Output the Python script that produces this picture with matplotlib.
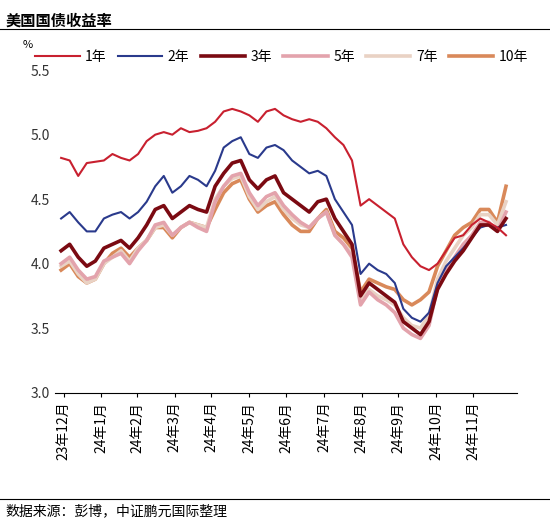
import matplotlib
matplotlib.use("Agg")
import matplotlib.pyplot as plt
import pandas as pd

plt.rcParams['font.family'] = ['Noto Sans CJK SC', 'DejaVu Sans']

dates = pd.date_range('2023-12-29', periods=53, freq='7D')
y1 = [4.82,4.80,4.68,4.78,4.79, 4.80,4.85,4.82,4.80, 4.85,4.95,5.00,5.02, 5.00,5.05,5.02,5.03,5.05, 5.10,5.18,5.20,5.18, 5.15,5.10,5.18,5.20,5.15, 5.12,5.10,5.12,5.10, 5.05,4.98,4.92,4.80, 4.45,4.50,4.45,4.40,4.35, 4.15,4.05,3.98,3.95, 4.00,4.10,4.20,4.22, 4.30,4.35,4.32,4.28,4.22]
y2 = [4.35,4.40,4.32,4.25,4.25, 4.35,4.38,4.40,4.35, 4.40,4.48,4.60,4.68, 4.55,4.60,4.68,4.65,4.60, 4.72,4.90,4.95,4.98, 4.85,4.82,4.90,4.92,4.88, 4.80,4.75,4.70,4.72, 4.68,4.50,4.40,4.30, 3.92,4.00,3.95,3.92,3.85, 3.65,3.58,3.55,3.62, 3.85,3.98,4.05,4.12, 4.20,4.28,4.30,4.28,4.30]
y3 = [4.10,4.15,4.05,3.98,4.02, 4.12,4.15,4.18,4.12, 4.20,4.30,4.42,4.45, 4.35,4.40,4.45,4.42,4.40, 4.60,4.70,4.78,4.80, 4.65,4.58,4.65,4.68,4.55, 4.50,4.45,4.40,4.48, 4.50,4.35,4.25,4.15, 3.75,3.85,3.80,3.75,3.70, 3.55,3.50,3.45,3.55, 3.80,3.92,4.02,4.10, 4.20,4.30,4.30,4.25,4.35]
y5 = [4.00,4.05,3.95,3.88,3.90, 4.02,4.05,4.08,4.00, 4.10,4.18,4.30,4.32, 4.22,4.28,4.32,4.28,4.25, 4.48,4.60,4.68,4.70, 4.55,4.45,4.52,4.55,4.45, 4.38,4.32,4.28,4.35, 4.40,4.22,4.15,4.05, 3.68,3.78,3.72,3.68,3.62, 3.50,3.45,3.42,3.52, 3.82,3.95,4.05,4.15, 4.22,4.32,4.32,4.25,4.40]
y7 = [3.98,4.02,3.92,3.85,3.88, 4.00,4.05,4.10,4.02, 4.12,4.18,4.28,4.30, 4.22,4.28,4.32,4.30,4.28, 4.50,4.60,4.66,4.68, 4.52,4.42,4.48,4.52,4.42, 4.35,4.30,4.28,4.35, 4.40,4.22,4.15,4.08, 3.70,3.80,3.75,3.72,3.68, 3.58,3.52,3.50,3.60, 3.88,4.02,4.12,4.22, 4.28,4.38,4.38,4.30,4.48]
y10 = [3.95,4.00,3.90,3.85,3.88, 4.00,4.08,4.12,4.05, 4.12,4.18,4.28,4.28, 4.20,4.28,4.32,4.30,4.28, 4.42,4.55,4.62,4.65, 4.50,4.40,4.45,4.48,4.38, 4.30,4.25,4.25,4.35, 4.42,4.25,4.20,4.12, 3.78,3.88,3.85,3.82,3.80, 3.72,3.68,3.72,3.78, 3.98,4.10,4.22,4.28, 4.32,4.42,4.42,4.32,4.60]

labels = ['1年', '2年', '3年', '5年', '7年', '10年']
series = [y1, y2, y3, y5, y7, y10]
colors = ['#C8202F', '#2A3A8C', '#7B0A12', '#E3A3AC', '#E9D2C4', '#D9895A']
widths = [1.5, 1.5, 2.6, 2.6, 2.6, 2.6]
xticks = pd.date_range('2023-12-31', periods=12, freq='ME')
xticklabels = ['23年12月'] + [f'24年{m}月' for m in range(1, 12)]

fig = plt.figure(figsize=(5.5, 5.2), dpi=100)
ax = fig.add_axes([0.1, 0.245, 0.84, 0.62])
order = [5, 4, 3, 1, 2, 0]
lines = {}
for i in order:
    lines[i], = ax.plot(dates, series[i], color=colors[i], lw=widths[i], label=labels[i])
ax.legend([lines[i] for i in range(6)], labels, ncol=6, frameon=False,
          loc='lower left', bbox_to_anchor=(-0.07, 0.98), handlelength=3.2,
          columnspacing=0.8, handletextpad=0.4, fontsize=10)
ax.set_ylim(3.0, 5.5)
ax.set_yticks([3.0, 3.5, 4.0, 4.5, 5.0, 5.5])
ax.set_xlim(pd.Timestamp('2023-12-24'), pd.Timestamp('2025-01-05'))
ax.set_xticks(xticks)
ax.set_xticklabels(xticklabels, rotation=90, fontsize=10)
ax.tick_params(axis='y', length=0, labelsize=10, colors='#333333')
ax.tick_params(axis='x', direction='out', length=3)
for s in ['top', 'right', 'left']:
    ax.spines[s].set_visible(False)
ax.text(-0.07, 1.07, '%', transform=ax.transAxes, fontsize=8)

fig.text(0.01, 0.975, '美国国债收益率', fontsize=11, fontweight='bold', va='top')
fig.add_artist(plt.Line2D([0, 1], [0.945, 0.945], color='black', lw=0.8))
fig.add_artist(plt.Line2D([0, 1], [0.04, 0.04], color='black', lw=0.8))
fig.text(0.01, 0.03, '数据来源：彭博，中证鹏元国际整理', fontsize=10, va='top')
fig.savefig('out.png', dpi=100)
